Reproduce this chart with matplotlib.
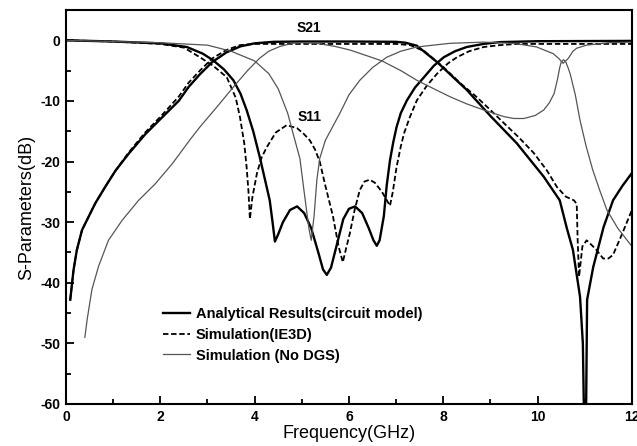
import matplotlib
matplotlib.use("Agg")
import matplotlib.pyplot as plt
from matplotlib.ticker import MultipleLocator

plt.rcParams['font.family'] = ['Liberation Sans', 'DejaVu Sans']
plt.rcParams['axes.unicode_minus'] = False

# analytical (circuit model) - thick solid
ana_s21_f = [0.09, 0.16, 0.23, 0.34, 0.48, 0.62, 0.83, 1.05, 1.33, 1.68, 2.04, 2.39, 2.6, 2.84, 3.1, 3.4,
             3.7, 4.0, 4.4, 5.0, 6.0, 7.0, 7.2, 7.44, 7.87, 8.5, 8.99, 9.56, 10.13, 10.47, 10.62, 10.75,
             10.9, 10.96, 10.98, 11.03, 11.05, 11.18, 11.4, 11.6, 11.8, 12.0]
ana_s21_db = [-42.8, -37.9, -34.6, -31.3, -29.1, -26.9, -24.2, -21.5, -18.7, -15.5, -12.7, -10.0, -7.7, -5.6,
              -3.6, -2.0, -1.0, -0.5, -0.25, -0.2, -0.2, -0.25, -0.4, -0.9, -3.6, -8.2, -12.4, -17.0, -22.5,
              -26.4, -31.0, -34.6, -42.3, -50.0, -60.0, -60.0, -42.8, -37.4, -30.8, -26.4, -24.0, -21.9]
ana_s11_f = [0.0, 1.0, 2.0, 2.56, 2.9, 3.12, 3.35, 3.55, 3.7, 3.83, 3.97, 4.11, 4.22, 4.32, 4.38, 4.43, 4.5,
             4.6, 4.75, 4.9, 5.05, 5.2, 5.35, 5.45, 5.53, 5.62, 5.75, 5.88, 6.0, 6.13, 6.28, 6.42, 6.52, 6.59,
             6.65, 6.74, 6.8, 6.87, 6.94, 7.01, 7.1, 7.23, 7.4, 7.59, 7.8, 8.01, 8.25, 8.5, 8.85, 9.2, 10.0, 12.0]
ana_s11_db = [0.0, -0.2, -0.5, -1.1, -2.2, -3.3, -4.8, -6.6, -8.8, -11.5, -15.0, -19.3, -23.0, -26.4, -30.0,
              -33.2, -32.0, -30.0, -28.0, -27.4, -28.5, -31.0, -35.0, -37.8, -38.7, -37.5, -33.5, -29.5, -27.8,
              -27.4, -28.5, -31.0, -33.0, -33.9, -33.0, -29.0, -24.0, -19.8, -16.8, -14.3, -12.0, -9.9, -7.8,
              -6.1, -4.2, -2.8, -1.8, -1.1, -0.6, -0.3, -0.15, -0.1]

# simulation IE3D - dashed
ie3d_s21_f = [0.09, 0.16, 0.23, 0.34, 0.48, 0.62, 0.83, 1.05, 1.33, 1.68, 2.04, 2.39, 2.6, 2.84, 3.1, 3.4,
              3.69, 4.0, 4.5, 5.5, 6.5, 7.0, 7.3, 7.6, 8.0, 8.35, 8.7, 9.0, 9.29, 9.6, 9.92, 10.2, 10.41, 10.6,
              10.77, 10.83, 10.85, 10.88, 10.95, 11.04, 11.15, 11.25, 11.39, 11.5, 11.6, 11.8, 12.0]
ie3d_s21_db = [-42.8, -37.9, -34.6, -31.3, -29.1, -26.9, -24.2, -21.5, -18.5, -15.2, -12.3, -9.3, -7.0, -5.0,
               -3.0, -1.6, -0.8, -0.6, -0.6, -0.6, -0.6, -0.6, -0.8, -1.8, -4.4, -7.0, -9.3, -11.5, -13.7,
               -16.0, -18.6, -21.5, -24.2, -25.8, -26.4, -27.0, -33.0, -39.0, -34.0, -33.0, -33.8, -34.6,
               -36.0, -36.0, -35.4, -31.8, -28.0]
ie3d_s11_f = [0.0, 1.0, 2.0, 2.5, 2.84, 3.12, 3.41, 3.6, 3.69, 3.78, 3.83, 3.87, 3.9, 3.95, 4.05, 4.15, 4.26,
              4.45, 4.68, 4.9, 5.05, 5.17, 5.28, 5.38, 5.5, 5.66, 5.78, 5.87, 5.95, 6.02, 6.12, 6.23, 6.33,
              6.44, 6.55, 6.7, 6.87, 6.93, 7.01, 7.1, 7.17, 7.3, 7.44, 7.65, 7.87, 8.1, 8.29, 8.55, 8.86, 9.2,
              9.56, 10.0, 12.0]
ie3d_s11_db = [0.0, -0.2, -0.6, -1.2, -2.8, -4.2, -6.1, -9.5, -12.7, -17.0, -20.9, -25.0, -29.5, -26.0, -21.9,
               -19.3, -17.6, -15.2, -14.0, -14.5, -15.5, -16.5, -18.0, -20.0, -24.0, -29.0, -34.0, -36.6,
               -34.0, -31.8, -28.0, -24.7, -23.3, -23.0, -23.5, -25.0, -27.3, -25.0, -20.9, -17.5, -15.3,
               -12.5, -9.9, -7.5, -5.5, -3.8, -2.8, -1.8, -1.1, -0.8, -0.6, -0.6, -0.6]

# simulation without DGS - thin grey
nodgs_s21_f = [0.40, 0.45, 0.55, 0.69, 0.9, 1.19, 1.54, 1.89, 2.25, 2.64, 2.84, 3.2, 3.55, 3.85, 4.1, 4.3,
               4.54, 4.8, 5.0, 5.32, 5.7, 6.02, 6.4, 6.7, 7.1, 7.44, 7.8, 8.14, 8.5, 8.86, 9.29, 9.5, 9.71,
               9.95, 10.13, 10.25, 10.35, 10.42, 10.47, 10.5, 10.55, 10.6, 10.65, 10.69, 10.8, 10.9, 11.03,
               11.17, 11.32, 11.47, 11.7, 12.0]
nodgs_s21_db = [-49.0, -46.0, -41.1, -37.3, -33.0, -29.7, -26.4, -23.7, -20.4, -16.3, -14.3, -11.0, -7.7,
                -5.0, -3.0, -1.8, -1.0, -0.5, -0.4, -0.5, -1.0, -1.6, -2.6, -3.4, -5.0, -6.6, -8.0, -9.3,
                -10.5, -11.5, -12.6, -12.9, -12.9, -12.4, -11.5, -10.3, -8.8, -6.5, -4.5, -3.6, -3.2, -3.6,
                -4.6, -5.5, -9.0, -13.2, -17.5, -21.4, -24.8, -28.0, -31.0, -34.0]
nodgs_s11_f = [0.0, 1.0, 2.0, 2.5, 3.0, 3.5, 4.0, 4.3, 4.5, 4.7, 4.82, 4.96, 5.05, 5.15, 5.2, 5.26, 5.32, 5.38,
               5.5, 5.81, 6.0, 6.23, 6.5, 6.8, 7.1, 7.44, 8.14, 8.85, 9.5, 9.98, 10.33, 10.45, 10.54, 10.65,
               10.75, 10.83, 11.04, 11.5, 12.0]
nodgs_s11_db = [0.0, -0.2, -0.4, -0.6, -0.8, -1.8, -3.4, -5.5, -8.0, -12.0, -15.5, -19.5, -25.0, -31.0, -33.0,
                -29.0, -23.0, -19.5, -16.5, -12.0, -9.0, -6.6, -4.5, -2.8, -1.8, -1.1, -0.5, -0.3, -0.5,
                -1.1, -2.2, -3.0, -3.8, -3.0, -1.8, -1.3, -0.8, -0.4, -0.3]

fig = plt.figure(figsize=(6.37, 4.46), dpi=100)
ax = fig.add_axes([0.1036, 0.0942, 0.8884, 0.8834])

ax.plot(ana_s21_f, ana_s21_db, color='black', lw=1.7, label='Analytical Results(circuit model)')
ax.plot(ana_s11_f, ana_s11_db, color='black', lw=1.7)
ax.plot(ie3d_s21_f, ie3d_s21_db, color='black', lw=1.3, ls=(0, (3, 1.5)), label='Simulation(IE3D)')
ax.plot(ie3d_s11_f, ie3d_s11_db, color='black', lw=1.3, ls=(0, (3, 1.5)))
ax.plot(nodgs_s21_f, nodgs_s21_db, color='#555555', lw=0.9, label='Simulation (No DGS)')
ax.plot(nodgs_s11_f, nodgs_s11_db, color='#555555', lw=0.9)

ax.text(5.15, 2.1, 'S21', fontsize=10, fontweight='bold', ha='center', va='center')
ax.text(5.17, -12.7, 'S11', fontsize=10, fontweight='bold', ha='center', va='center')

ax.set_xlim(0, 12)
ax.set_ylim(-60, 5)
ax.xaxis.set_major_locator(MultipleLocator(2))
ax.xaxis.set_minor_locator(MultipleLocator(1))
ax.yaxis.set_major_locator(MultipleLocator(10))
ax.yaxis.set_minor_locator(MultipleLocator(5))
ax.tick_params(which='both', direction='in', width=1.3, top=False, right=False)
ax.tick_params(which='major', length=6, labelsize=10, pad=4)
ax.tick_params(which='minor', length=3.5)
for lab in ax.get_xticklabels() + ax.get_yticklabels():
    lab.set_fontweight('bold')
for sp in ax.spines.values():
    sp.set_linewidth(1.5)

ax.set_xlabel('Frequency(GHz)', fontsize=13, labelpad=1)
ax.set_ylabel('S-Parameters(dB)', fontsize=13, labelpad=4)

leg = ax.legend(loc='upper left', bbox_to_anchor=(0.171, 0.245), frameon=False, borderpad=0,
                borderaxespad=0, handlelength=1.85, handletextpad=0.4, labelspacing=0.45,
                prop={'weight': 'bold', 'size': 10.5})

fig.savefig('out.png', dpi=100)
